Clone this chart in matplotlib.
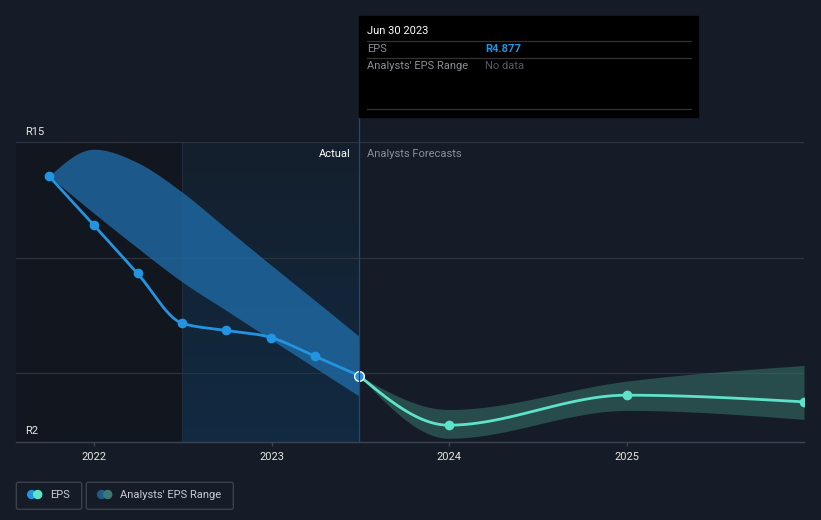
import numpy as np
import matplotlib
matplotlib.use("Agg")
import matplotlib.pyplot as plt
import matplotlib.dates as mdates
from matplotlib.patches import FancyBboxPatch, Rectangle, Circle

plt.rcParams['font.family'] = ['Roboto', 'DejaVu Sans']

# ---------- data ----------
hist_dates = ["2021-09-30", "2021-12-31", "2022-03-31", "2022-06-30",
              "2022-09-30", "2022-12-31", "2023-03-31", "2023-06-30"]
hist_eps = [13.53, 11.41, 9.31, 7.16, 6.84, 6.53, 5.72, 4.877]
hist_low = [13.53, 11.93, 10.42, 8.96, 7.70, 6.44, 5.22, 3.99]
hist_high = [13.53, 14.70, 14.12, 12.85, 11.26, 9.67, 8.14, 6.58]

fc_dates = ["2023-06-30", "2023-12-31", "2024-12-31", "2025-12-31"]
fc_eps = [4.877, 2.73, 4.03, 3.74]
fc_low = [4.877, 2.16, 3.37, 2.98]
fc_high = [4.877, 3.41, 4.64, 5.32]

year_ticks = ["2022-01-01", "2023-01-01", "2024-01-01", "2025-01-01"]
year_labels = ["2022", "2023", "2024", "2025"]

BG = "#161c27"
BLUE = "#2394df"
TEAL = "#5ee3c9"


def to_num(ds):
    return mdates.datestr2num(ds)


# monotone cubic curve through the points (like d3 curveMonotoneX)
def smooth(x, y, n=40):
    x = np.asarray(x, float); y = np.asarray(y, float)
    h = np.diff(x); s = np.diff(y) / h
    m = np.zeros_like(y)
    for i in range(1, len(y) - 1):
        p = (s[i-1] * h[i] + s[i] * h[i-1]) / (h[i-1] + h[i])
        m[i] = (np.sign(s[i-1]) + np.sign(s[i])) * min(abs(s[i-1]), abs(s[i]), 0.5 * abs(p))
    if len(y) > 2:
        m[0] = (3 * s[0] - m[1]) / 2
        m[-1] = (3 * s[-1] - m[-2]) / 2
    else:
        m[:] = s[0]
    xs, ys = [], []
    for i in range(len(h)):
        t = np.linspace(0, 1, n)
        h00 = 2*t**3 - 3*t**2 + 1; h10 = t**3 - 2*t**2 + t
        h01 = -2*t**3 + 3*t**2; h11 = t**3 - t**2
        xs.append(x[i] + t * h[i])
        ys.append(h00*y[i] + h10*h[i]*m[i] + h01*y[i+1] + h11*h[i]*m[i+1])
    return np.concatenate(xs), np.concatenate(ys)


hx = to_num(hist_dates)
fx = to_num(fc_dates)

fig = plt.figure(figsize=(8.21, 5.2), dpi=100, facecolor=BG)
ax = fig.add_axes([16/821, 78/520, 788/821, (442-142.3)/520])
ax.set_facecolor(BG)

x0, x1 = mdates.datestr2num("2021-07-24"), mdates.datestr2num("2025-12-31")
ax.set_xlim(x0, x1)
ax.set_ylim(2, 15)

# shaded past regions
split = mdates.datestr2num("2022-06-30")
ax.axvspan(x0, split, color="#12161f", zorder=0, lw=0)
grad = np.linspace(0, 1, 100).reshape(-1, 1)
cmap = matplotlib.colors.LinearSegmentedColormap.from_list("g", ["#141f2c", "#112a42"])
ax.imshow(grad, extent=[split, hx[-1], 2, 15], aspect="auto", cmap=cmap,
          origin="upper", zorder=0.5)
ax.axvline(split, color="#1e2c3c", lw=0.8, zorder=0.6)

for g in [15, 10, 5]:
    ax.axhline(g, color="#2c333f", lw=0.9, zorder=1)

# bands
bx, bl = smooth(hx, hist_low)
_, bh = smooth(hx, hist_high)
ax.fill_between(bx, bl, bh, color="#1f6aa5", alpha=0.8, lw=0, zorder=2)
fbx, fbl = smooth(fx, fc_low)
_, fbh = smooth(fx, fc_high)
ax.fill_between(fbx, fbl, fbh, color="#3a7a70", alpha=0.5, lw=0, zorder=2)

# lines
lx, ly = smooth(hx, hist_eps)
ax.plot(lx, ly, color=BLUE, lw=2, zorder=3, solid_capstyle="round")
flx, fly = smooth(fx, fc_eps)
ax.plot(flx, fly, color=TEAL, lw=2, zorder=3, solid_capstyle="round")
ax.plot(hx[:-1], hist_eps[:-1], "o", color=BLUE, ms=6, zorder=4)
ax.plot(fx[1:], fc_eps[1:], "o", color=TEAL, ms=6, zorder=4)
ax.plot(hx[-1], hist_eps[-1], "o", color=BLUE, mec="white", mew=1.0, ms=7, zorder=5)

# axes styling
for sp in ["top", "left", "right"]:
    ax.spines[sp].set_visible(False)
ax.spines["bottom"].set_color("#3b4250")
ax.spines["bottom"].set_linewidth(1)
ax.set_yticks([])
ax.set_xticks(to_num(year_ticks))
ax.set_xticklabels(year_labels)
ax.tick_params(axis="x", colors="#3b4250", length=3, width=1, pad=4,
               labelcolor="#e6e6e6", labelsize=8)

ytr = ax.get_yaxis_transform()
ax.text(0.012, 15.25, "R15", color="#e6e6e6", fontsize=8, va="bottom", transform=ytr)
ax.text(0.012, 2.25, "R2", color="#e6e6e6", fontsize=8, va="bottom", transform=ytr)

# overlay in pixel coordinates
ov = fig.add_axes([0, 0, 1, 1])
ov.set_xlim(0, 821)
ov.set_ylim(520, 0)
ov.axis("off")
ov.patch.set_alpha(0)

ov.plot([359, 359], [117, 442], color="#2b4660", lw=0.9)
ov.text(350.5, 154, "Actual", color="white", fontsize=8, ha="right", va="center")
ov.text(367, 154, "Analysts Forecasts", color="#8a8f98", fontsize=8, ha="left", va="center")

# tooltip
ov.add_patch(Rectangle((359, 16), 339, 101, color="black", zorder=5))
for yy in [41.3, 58.3, 109]:
    ov.plot([367, 691], [yy, yy], color="#333333", lw=0.9, zorder=6)
ov.text(367, 31, "Jun 30 2023", color="white", fontsize=8, va="center", zorder=7)
ov.text(367, 49.5, "EPS", color="#8a8f98", fontsize=8, va="center", zorder=7)
ov.text(485, 49.5, "R4.877", color=BLUE, fontsize=8, va="center", fontweight="bold", zorder=7)
ov.text(367, 66, "Analysts' EPS Range", color="#8a8f98", fontsize=8, va="center", zorder=7)
ov.text(485, 66, "No data", color="#555a62", fontsize=8, va="center", zorder=7)

# legend
for (lx0, lx1) in [(16.3, 81.7), (86.3, 233.3)]:
    ov.add_patch(FancyBboxPatch((lx0, 482.3), lx1 - lx0, 27, boxstyle="round,pad=0,rounding_size=2",
                                fc="none", ec="#3b404b", lw=1))
ov.add_patch(Circle((31.7, 494.5), 4, color=BLUE))
ov.add_patch(Circle((37.7, 494.5), 4, color=TEAL))
ov.text(50, 494.5, "EPS", color="#c8ccd2", fontsize=8, va="center")
ov.add_patch(Circle((101.7, 494.5), 4, color="#1f5a8a"))
ov.add_patch(Circle((107.7, 494.5), 4, color="#3b7a72"))
ov.text(120, 494.5, "Analysts' EPS Range", color="#c8ccd2", fontsize=8, va="center")

fig.savefig("out.png", dpi=100, facecolor=BG)
